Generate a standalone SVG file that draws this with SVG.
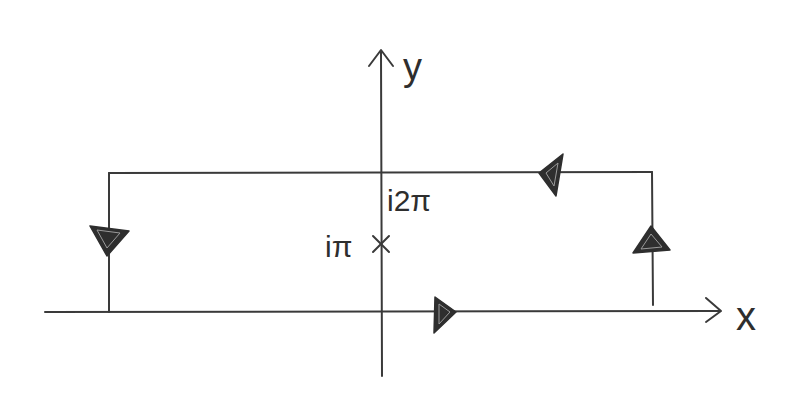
<svg xmlns="http://www.w3.org/2000/svg" width="800" height="419" viewBox="0 0 800 419">
<style>
.ln{stroke:#3a3a3a;stroke-width:2;fill:none;stroke-linecap:round;stroke-linejoin:round}
.ah{fill:#2e2e2e;stroke:#2e2e2e;stroke-width:1.5;stroke-linejoin:round}
.ahin{fill:none;stroke:#9a9a9a;stroke-width:1}
.lbl{font-family:"Liberation Sans",sans-serif;fill:#2e2e2e}
</style>
<rect width="800" height="419" fill="#ffffff"/>
<g id="axes">
<line class="ln" x1="45" y1="312" x2="720" y2="311"/>
<polyline class="ln" points="706,298 721,311 706,322"/>
<line class="ln" x1="381" y1="52" x2="382" y2="376"/>
<polyline class="ln" points="369,66 381,50 393,66"/>
</g>
<g id="connectors">
<line class="ln" x1="109" y1="173" x2="652" y2="172"/>
<line class="ln" x1="109" y1="173" x2="109" y2="312"/>
<line class="ln" x1="652" y1="172" x2="653" y2="305"/>
</g>
<g id="arrow-bottom">
<polygon class="ah" points="435,297 456,312 434,333"/>
<polygon class="ahin" points="439,304 450,312 439,324"/>
</g>
<g id="arrow-top">
<polygon class="ah" points="539,173 563,154 556,196"/>
<polygon class="ahin" points="546,173 558,163 554,186"/>
</g>
<g id="arrow-left">
<polygon class="ah" points="90,226 129,231 107,256"/>
<polygon class="ahin" points="97,230 120,233 107,248"/>
</g>
<g id="arrow-right">
<polygon class="ah" points="651,226 633,253 670,250"/>
<polygon class="ahin" points="651,234 641,249 662,247"/>
</g>
<g id="pole">
<line class="ln" x1="373" y1="236" x2="389" y2="252"/>
<line class="ln" x1="389" y1="236" x2="373" y2="252"/>
</g>
<g id="labels">
<text class="lbl" x="403" y="80" font-size="38">y</text>
<text class="lbl" x="736" y="330" font-size="40">x</text>
<text class="lbl" x="387" y="211" font-size="30">i2π</text>
<text class="lbl" x="325" y="257" font-size="30">iπ</text>
</g>
</svg>
